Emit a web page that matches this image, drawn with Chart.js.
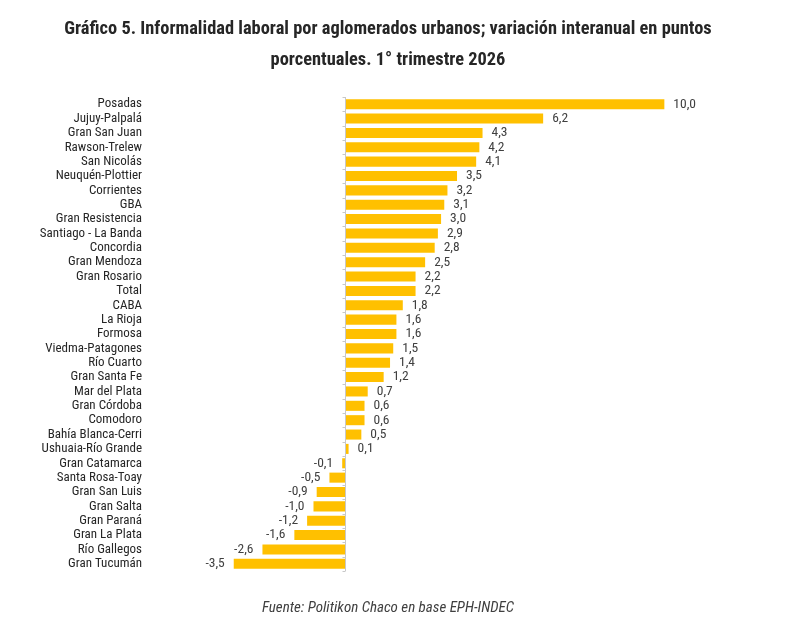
<!DOCTYPE html>
<html>
<head>
<meta charset="utf-8">
<script src="https://cdn.jsdelivr.net/npm/chart.js@4.4.1/dist/chart.umd.min.js"></script>
<style>
  html, body { margin: 0; padding: 0; background: #fff; }
  #wrap { position: relative; width: 800px; height: 638px; }
</style>
</head>
<body>
<div id="wrap"><canvas id="chartInformalidad"></canvas></div>
<script>
const FONT = '"Liberation Sans Narrow", "Arial Narrow", "Roboto Condensed", "Liberation Sans", sans-serif';

const TITLE_LINES = [
  "Gráfico 5. Informalidad laboral por aglomerados urbanos; variación interanual en puntos",
  "porcentuales. 1° trimestre 2026"
];
const SOURCE = "Fuente: Politikon Chaco en base EPH-INDEC";

const aglomerados = [
  "Posadas", "Jujuy-Palpalá", "Gran San Juan", "Rawson-Trelew", "San Nicolás",
  "Neuquén-Plottier", "Corrientes", "GBA", "Gran Resistencia", "Santiago - La Banda",
  "Concordia", "Gran Mendoza", "Gran Rosario", "Total", "CABA", "La Rioja", "Formosa",
  "Viedma-Patagones", "Río Cuarto", "Gran Santa Fe", "Mar del Plata", "Gran Córdoba",
  "Comodoro", "Bahía Blanca-Cerri", "Ushuaia-Río Grande", "Gran Catamarca",
  "Santa Rosa-Toay", "Gran San Luis", "Gran Salta", "Gran Paraná", "Gran La Plata",
  "Río Gallegos", "Gran Tucumán"
];

const variacion = [
  10.0, 6.2, 4.3, 4.2, 4.1,
  3.5, 3.2, 3.1, 3.0, 2.9,
  2.8, 2.5, 2.2, 2.2, 1.8, 1.6, 1.6,
  1.5, 1.4, 1.2, 0.7, 0.6,
  0.6, 0.5, 0.1, -0.1,
  -0.5, -0.9, -1.0, -1.2, -1.6,
  -2.6, -3.5
];

const COLORS = {
  bar: "#FFC000",
  text: "#262626",
  label: "#404040",
  axis: "#c8c8c8"
};

const fmt = v => v.toFixed(1).replace(".", ",");

// zero axis line with small category ticks
const zeroAxis = {
  id: "zeroAxis",
  afterDatasetsDraw(chart) {
    const { ctx, chartArea, scales } = chart;
    const x0 = Math.round(scales.x.getPixelForValue(0)) + 0.5;
    ctx.save();
    ctx.strokeStyle = COLORS.axis;
    ctx.lineWidth = 1;
    ctx.beginPath();
    ctx.moveTo(x0, chartArea.top);
    ctx.lineTo(x0, chartArea.bottom);
    const n = aglomerados.length;
    for (let i = 0; i <= n; i++) {
      const y = Math.round(scales.y.getPixelForValue(i - 0.5)) + 0.5;
      ctx.moveTo(x0 - 3, y);
      ctx.lineTo(x0, y);
    }
    ctx.stroke();
    ctx.restore();
  }
};

// value labels next to bar ends
const valueLabels = {
  id: "valueLabels",
  afterDatasetsDraw(chart) {
    const { ctx } = chart;
    const meta = chart.getDatasetMeta(0);
    ctx.save();
    ctx.font = "13.5px " + FONT;
    ctx.fillStyle = COLORS.label;
    ctx.textBaseline = "middle";
    meta.data.forEach((bar, i) => {
      const v = variacion[i];
      if (v >= 0) {
        ctx.textAlign = "left";
        ctx.fillText(fmt(v), bar.x + 9, bar.y);
      } else {
        ctx.textAlign = "right";
        ctx.fillText(fmt(v), bar.x - 9, bar.y);
      }
    });
    ctx.restore();
  }
};

new Chart(document.getElementById("chartInformalidad"), {
  type: "bar",
  data: {
    labels: aglomerados,
    datasets: [{
      data: variacion,
      backgroundColor: COLORS.bar,
      borderWidth: 0,
      barPercentage: 0.7,
      categoryPercentage: 1.0
    }]
  },
  options: {
    indexAxis: "y",
    responsive: true,
    maintainAspectRatio: false,
    animation: false,
    layout: { padding: { left: 0, right: 24, top: 0, bottom: 0 } },
    scales: {
      x: {
        display: false,
        min: -6,
        max: 13.5
      },
      y: {
        afterFit(scale) { scale.width = 154; },
        grid: { display: false, drawTicks: false },
        border: { display: false },
        ticks: {
          color: COLORS.text,
          padding: 12,
          autoSkip: false,
          font: { family: FONT, size: 13, lineHeight: "14px" }
        }
      }
    },
    plugins: {
      legend: { display: false },
      tooltip: { enabled: false },
      title: {
        display: true,
        text: TITLE_LINES,
        color: COLORS.text,
        font: { family: FONT, size: 18.4, weight: "bold", lineHeight: "31px" },
        padding: { top: 14, bottom: 21 }
      },
      subtitle: {
        display: true,
        position: "bottom",
        text: SOURCE,
        color: COLORS.label,
        font: { family: FONT, size: 15, style: "italic", lineHeight: "18px" },
        padding: { top: 28, bottom: 21 }
      }
    }
  },
  plugins: [zeroAxis, valueLabels]
});
</script>
</body>
</html>
